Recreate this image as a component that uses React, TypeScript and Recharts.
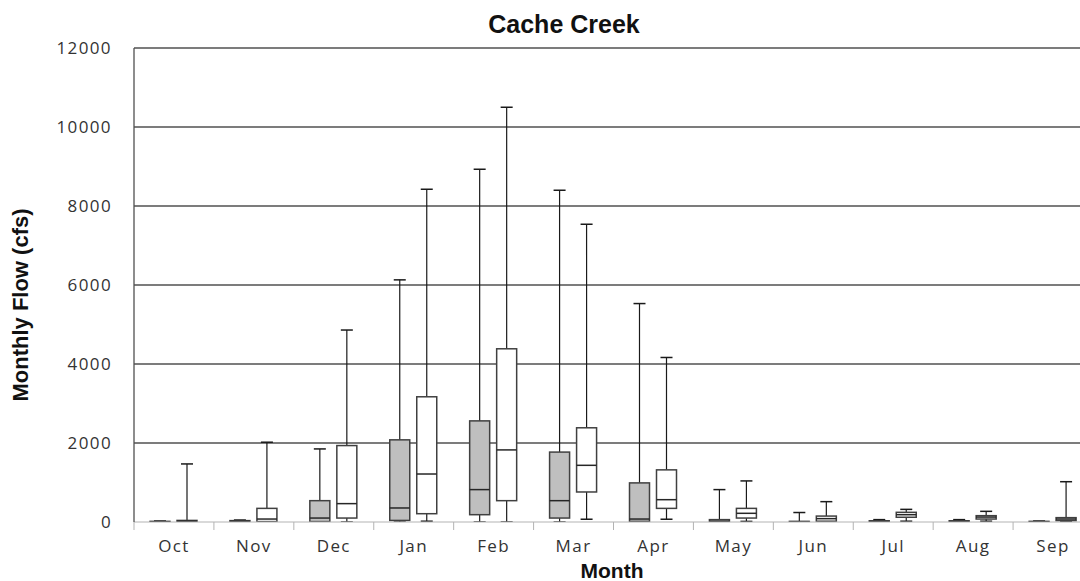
import { ComposedChart, Bar, XAxis, YAxis, CartesianGrid } from 'recharts';

const months = ['Oct', 'Nov', 'Dec', 'Jan', 'Feb', 'Mar', 'Apr', 'May', 'Jun', 'Jul', 'Aug', 'Sep'];
const yTicks = [0, 2000, 4000, 6000, 8000, 10000, 12000];

// shaded boxes (left of each month)
const grayMin = [0, 0, 0, 0, 0, 0, 0, 0, 0, 0, 0, 0];
const grayQ1 = [2, 5, 10, 40, 185, 100, 15, 5, 2, 5, 5, 2];
const grayMedian = [8, 15, 100, 355, 820, 540, 75, 20, 8, 15, 15, 8];
const grayQ3 = [15, 35, 540, 2080, 2560, 1770, 990, 60, 15, 30, 30, 15];
const grayMax = [25, 50, 1850, 6130, 8930, 8400, 5530, 820, 240, 60, 60, 25];

// open boxes (right of each month)
const whiteMin = [0, 0, 0, 20, 0, 70, 70, 15, 15, 20, 20, 10];
const whiteQ1 = [5, 10, 100, 210, 540, 760, 345, 100, 20, 120, 75, 35];
const whiteMedian = [20, 75, 465, 1215, 1825, 1435, 565, 220, 85, 185, 125, 75];
const whiteQ3 = [40, 345, 1935, 3170, 4385, 2385, 1320, 345, 150, 245, 160, 110];
const whiteMax = [1470, 2020, 4860, 8425, 10500, 7540, 4165, 1040, 515, 320, 270, 1020];

const data = months.map((month, i) => ({
  month,
  gray: { min: grayMin[i], q1: grayQ1[i], median: grayMedian[i], q3: grayQ3[i], max: grayMax[i] },
  white: { min: whiteMin[i], q1: whiteQ1[i], median: whiteMedian[i], q3: whiteQ3[i], max: whiteMax[i] },
}));

const tickFont = '"Open Sans", sans-serif';
const titleFont = '"Liberation Sans", Arial, sans-serif';

function BoxShape(props: any) {
  const { x, y, width, height, payload, series, boxFill } = props;
  const s = payload[series];
  const top = Math.min(y, y + height);
  const bottom = Math.max(y, y + height);
  const span = s.max - s.min || 1;
  const py = (v: number) => bottom - ((v - s.min) / span) * (bottom - top);
  const cx = x + width / 2;
  const cap = 6;
  return (
    <g>
      <line x1={cx} x2={cx} y1={py(s.max)} y2={py(s.q3)} stroke="#1a1a1a" strokeWidth={1.2} />
      <line x1={cx} x2={cx} y1={py(s.q1)} y2={py(s.min)} stroke="#1a1a1a" strokeWidth={1.2} />
      <line x1={cx - cap} x2={cx + cap} y1={py(s.max)} y2={py(s.max)} stroke="#1a1a1a" strokeWidth={1.5} />
      <line x1={cx - cap} x2={cx + cap} y1={py(s.min)} y2={py(s.min)} stroke="#1a1a1a" strokeWidth={1.5} />
      <rect
        x={x}
        y={py(s.q3)}
        width={width}
        height={Math.max(py(s.q1) - py(s.q3), 0.5)}
        fill={boxFill}
        stroke="#404040"
        strokeWidth={1.5}
      />
      <line x1={x} x2={x + width} y1={py(s.median)} y2={py(s.median)} stroke="#262626" strokeWidth={1.5} />
    </g>
  );
}

function MonthTick({ x, y, payload }: any) {
  const half = payload.offset || 39.96;
  return (
    <g>
      <line x1={x - half} x2={x - half} y1={y} y2={y + 8} stroke="#b3b3b3" strokeWidth={1} />
      <text
        x={x}
        y={y + 24}
        dy="0.35em"
        textAnchor="middle"
        fill="#333"
        fontFamily={tickFont}
        fontSize={17}
        letterSpacing={1.4}
      >
        {payload.value}
      </text>
    </g>
  );
}

export default function App() {
  return (
    <div
      style={{
        position: 'fixed',
        left: 0,
        top: 0,
        width: 1080,
        height: 581,
        overflow: 'hidden',
        background: '#fff',
      }}
    >
      <ComposedChart
        width={1120}
        height={581}
        data={data}
        margin={{ top: 48, right: 27, bottom: 0, left: 0 }}
        barGap={7}
        barSize={20}
      >
        <CartesianGrid
          vertical={false}
          horizontalValues={[2000, 4000, 6000, 8000, 10000, 12000]}
          stroke="#505050"
          strokeWidth={1.3}
        />
        <XAxis
          dataKey="month"
          height={59}
          tickSize={0}
          tickMargin={0}
          tickLine={false}
          axisLine={{ stroke: '#b3b3b3', strokeWidth: 1.2 }}
          tick={<MonthTick />}
          interval={0}
        />
        <YAxis
          width={134}
          domain={[0, 12000]}
          ticks={yTicks}
          allowDataOverflow
          tickLine={false}
          tickSize={0}
          tickMargin={22}
          axisLine={{ stroke: '#505050', strokeWidth: 1.3 }}
          tick={{ fill: '#333', fontFamily: tickFont, fontSize: 17, letterSpacing: 1.4 }}
        />
        <Bar
          dataKey={(d: any) => [d.gray.min, d.gray.max]}
          isAnimationActive={false}
          shape={(p: any) => <BoxShape {...p} series="gray" boxFill="#bfbfbf" />}
        />
        <Bar
          dataKey={(d: any) => [d.white.min, d.white.max]}
          isAnimationActive={false}
          shape={(p: any) => <BoxShape {...p} series="white" boxFill="#ffffff" />}
        />
      </ComposedChart>

      <div
        style={{
          position: 'absolute',
          left: 414,
          top: 12,
          width: 300,
          textAlign: 'center',
          fontFamily: titleFont,
          fontWeight: 'bold',
          fontSize: 25,
          lineHeight: '25px',
          color: '#111',
        }}
      >
        Cache Creek
      </div>
      <div
        style={{
          position: 'absolute',
          left: 21.4 - 150,
          top: 305 - 11,
          width: 300,
          height: 22,
          textAlign: 'center',
          fontFamily: titleFont,
          fontWeight: 'bold',
          fontSize: 22,
          lineHeight: '22px',
          color: '#111',
          transform: 'rotate(-90deg)',
        }}
      >
        Monthly Flow (cfs)
      </div>
      <div
        style={{
          position: 'absolute',
          left: 512,
          top: 562,
          width: 200,
          height: 18,
          textAlign: 'center',
          fontFamily: titleFont,
          fontWeight: 'bold',
          fontSize: 21,
          lineHeight: '18px',
          color: '#111',
        }}
      >
        Month
      </div>
    </div>
  );
}
